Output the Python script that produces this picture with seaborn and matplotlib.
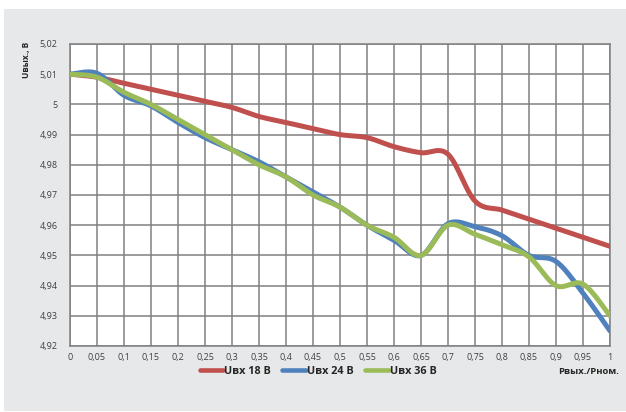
import numpy as np
import pandas as pd
import matplotlib
matplotlib.use("Agg")
import matplotlib.pyplot as plt
from matplotlib.patches import Rectangle
from matplotlib.ticker import FuncFormatter, MultipleLocator
import seaborn as sns

# Load ratio (x) and output voltage for three input voltages
power_ratio = [0, 0.05, 0.1, 0.15, 0.2, 0.25, 0.3, 0.35, 0.4, 0.45, 0.5,
               0.55, 0.6, 0.65, 0.7, 0.75, 0.8, 0.85, 0.9, 0.95, 1]
u_18 = [5.010, 5.009, 5.007, 5.005, 5.003, 5.001, 4.999, 4.996, 4.994, 4.992, 4.990,
        4.989, 4.986, 4.984, 4.9835, 4.968, 4.965, 4.962, 4.959, 4.956, 4.953]
u_24 = [5.010, 5.0103, 5.003, 4.9995, 4.994, 4.989, 4.985, 4.981, 4.976, 4.971, 4.966,
        4.960, 4.955, 4.950, 4.9605, 4.9595, 4.9565, 4.950, 4.948, 4.9375, 4.925]
u_36 = [5.010, 5.009, 5.004, 5.000, 4.995, 4.990, 4.985, 4.980, 4.976, 4.970, 4.966,
        4.960, 4.956, 4.950, 4.960, 4.957, 4.9535, 4.9495, 4.940, 4.9405, 4.930]
series_names = ["Uвх 18 В", "Uвх 24 В", "Uвх 36 В"]
series_values = [u_18, u_24, u_36]
colors = ["#C0504D", "#4F81BD", "#9BBB59"]


def smooth(x, y, steps=24):
    """Catmull-Rom style smoothing through every point (as in office charts)."""
    x = np.asarray(x, float)
    y = np.asarray(y, float)
    px = np.concatenate([[x[0]], x, [x[-1]]])
    py = np.concatenate([[y[0]], y, [y[-1]]])
    xs, ys = [], []
    t = np.linspace(0, 1, steps, endpoint=False)
    for i in range(1, len(px) - 2):
        p0, p1, p2, p3 = (np.array([px[j], py[j]]) for j in (i - 1, i, i + 1, i + 2))
        c1 = p1 + (p2 - p0) / 6.0
        c2 = p2 - (p3 - p1) / 6.0
        b = ((1 - t) ** 3)[:, None] * p1 + (3 * (1 - t) ** 2 * t)[:, None] * c1 \
            + (3 * (1 - t) * t ** 2)[:, None] * c2 + (t ** 3)[:, None] * p2
        xs.append(b[:, 0])
        ys.append(b[:, 1])
    xs.append([x[-1]])
    ys.append([y[-1]])
    return np.concatenate(xs), np.concatenate(ys)


frames = []
for name, vals in zip(series_names, series_values):
    sx, sy = smooth(power_ratio, vals)
    frames.append(pd.DataFrame({"x": sx, "y": sy, "series": name, "order": np.arange(len(sx))}))
df = pd.concat(frames, ignore_index=True)

sns.set_theme(style="white")
plt.rcParams["font.family"] = ["Open Sans", "DejaVu Sans"]

fig = plt.figure(figsize=(6.26, 4.12), dpi=100)
fig.patches.append(Rectangle((4 / 626, 1 / 412), 622 / 626, 402 / 412,
                             transform=fig.transFigure, facecolor="#E7E8E9",
                             edgecolor="none", zorder=-10))
ax = fig.add_axes([70 / 626, 66 / 412, 540 / 626, 302 / 412])
ax.set_facecolor("white")

sns.lineplot(data=df, x="x", y="y", hue="series", palette=colors, sort=False,
             estimator=None, units="series", linewidth=3.6, ax=ax, legend=False,
             solid_capstyle="round", zorder=3)

ax.set_xlim(0, 1)
ax.set_ylim(4.92, 5.02)
ax.xaxis.set_major_locator(MultipleLocator(0.05))
ax.yaxis.set_major_locator(MultipleLocator(0.01))


def comma_fmt(v, _pos):
    s = f"{v:.2f}".rstrip("0").rstrip(".")
    return s.replace(".", ",")


ax.xaxis.set_major_formatter(FuncFormatter(comma_fmt))
ax.yaxis.set_major_formatter(FuncFormatter(comma_fmt))
ax.grid(True, color="#808080", linewidth=1.1)
ax.set_axisbelow(True)
for sp in ax.spines.values():
    sp.set_color("#808080")
    sp.set_linewidth(1.1)
ax.tick_params(axis="both", length=0, labelsize=6.5, colors="#404040")
ax.tick_params(axis="y", pad=9)
ax.tick_params(axis="x", pad=5)
ax.set_xlabel("")
ax.set_ylabel("")

fig.text(27 / 626, 1 - 60 / 412, "Uвых., В", rotation=90, ha="center", va="center",
         fontsize=6, fontweight="bold", color="#262626")
fig.text(589 / 626, 1 - 372 / 412, "Рвых./Рном.", ha="center", va="center",
         fontsize=6.8, fontweight="bold", color="#262626")

handles = [plt.Line2D([], [], color=c, linewidth=3.3, solid_capstyle="round") for c in colors]
fig.legend(handles, series_names, loc="center", bbox_to_anchor=(318 / 626, 1 - 371 / 412),
           ncol=3, frameon=False, handlelength=2.2, handletextpad=0.1, columnspacing=1.0,
           prop={"size": 7.8, "weight": "bold"})

fig.savefig("out.png", dpi=100)
